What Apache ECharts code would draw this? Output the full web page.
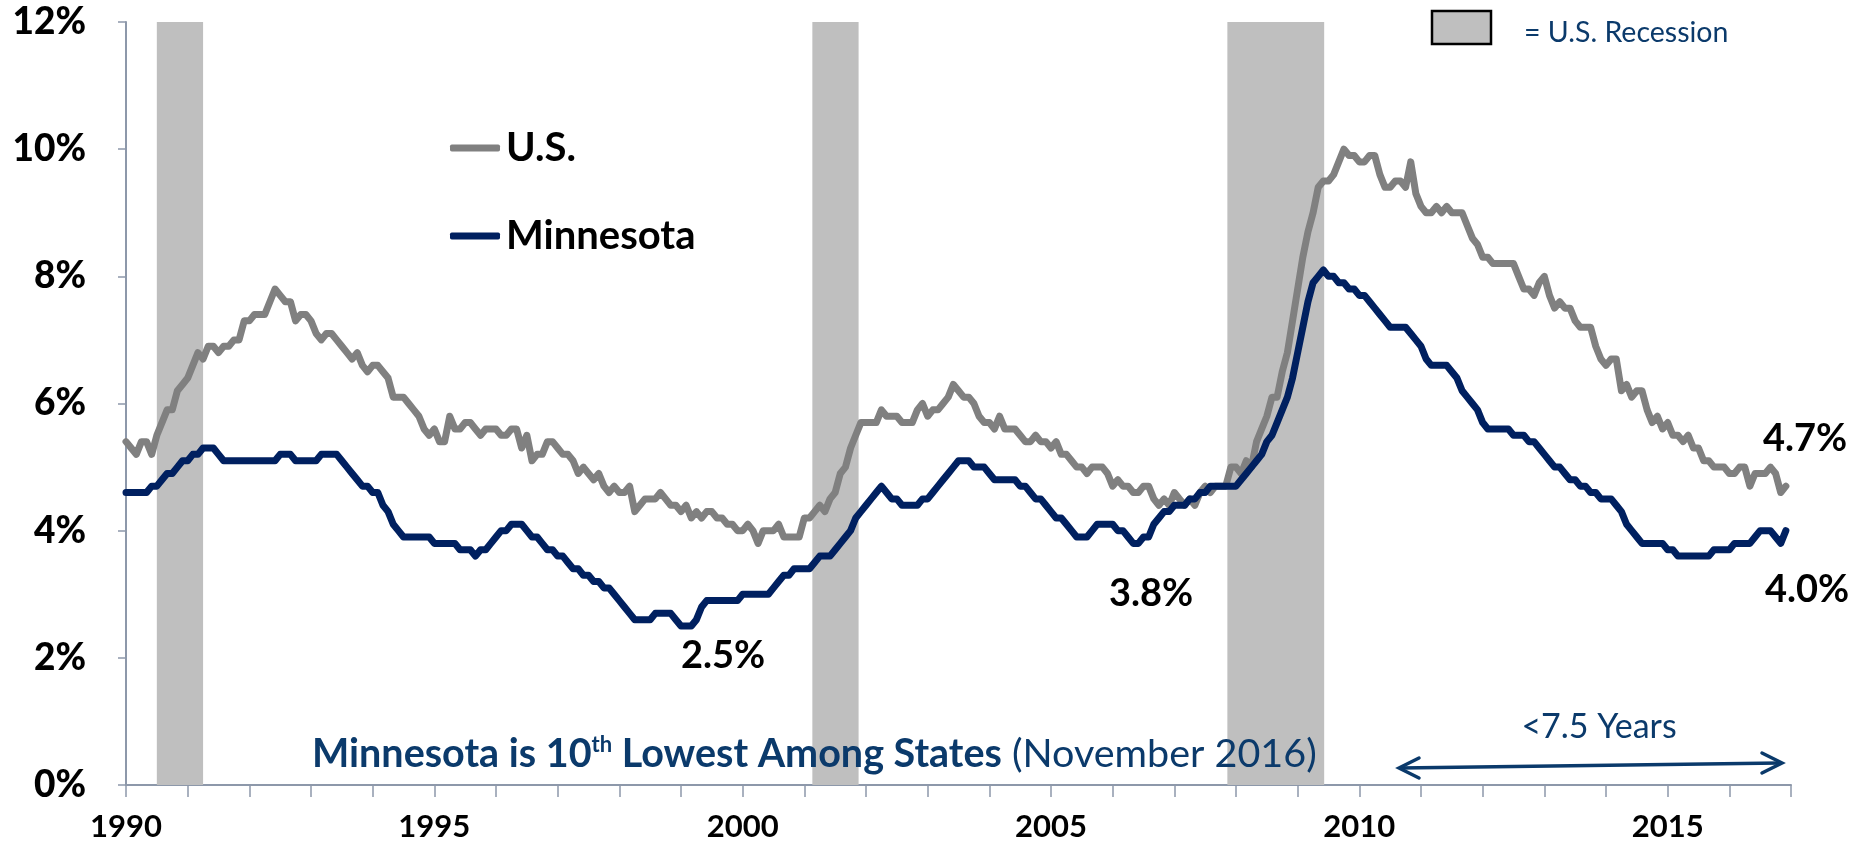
<!DOCTYPE html>
<html>
<head>
<meta charset="utf-8">
<script src="https://cdn.jsdelivr.net/npm/echarts@6/dist/echarts.min.js"></script>
<style>
  html, body { margin: 0; padding: 0; background: #ffffff; }
  #chart { width: 1870px; height: 849px; }
</style>
</head>
<body>
<div id="chart"></div>
<script>
// ---- Data (monthly, Jan 1990 – Dec 2016) ----
const startYear = 1990;
const usRate = [
  5.4,5.3,5.2,5.4,5.4,5.2,5.5,5.7,5.9,5.9,6.2,6.3,   // 1990
  6.4,6.6,6.8,6.7,6.9,6.9,6.8,6.9,6.9,7.0,7.0,7.3,   // 1991
  7.3,7.4,7.4,7.4,7.6,7.8,7.7,7.6,7.6,7.3,7.4,7.4,   // 1992
  7.3,7.1,7.0,7.1,7.1,7.0,6.9,6.8,6.7,6.8,6.6,6.5,   // 1993
  6.6,6.6,6.5,6.4,6.1,6.1,6.1,6.0,5.9,5.8,5.6,5.5,   // 1994
  5.6,5.4,5.4,5.8,5.6,5.6,5.7,5.7,5.6,5.5,5.6,5.6,   // 1995
  5.6,5.5,5.5,5.6,5.6,5.3,5.5,5.1,5.2,5.2,5.4,5.4,   // 1996
  5.3,5.2,5.2,5.1,4.9,5.0,4.9,4.8,4.9,4.7,4.6,4.7,   // 1997
  4.6,4.6,4.7,4.3,4.4,4.5,4.5,4.5,4.6,4.5,4.4,4.4,   // 1998
  4.3,4.4,4.2,4.3,4.2,4.3,4.3,4.2,4.2,4.1,4.1,4.0,   // 1999
  4.0,4.1,4.0,3.8,4.0,4.0,4.0,4.1,3.9,3.9,3.9,3.9,   // 2000
  4.2,4.2,4.3,4.4,4.3,4.5,4.6,4.9,5.0,5.3,5.5,5.7,   // 2001
  5.7,5.7,5.7,5.9,5.8,5.8,5.8,5.7,5.7,5.7,5.9,6.0,   // 2002
  5.8,5.9,5.9,6.0,6.1,6.3,6.2,6.1,6.1,6.0,5.8,5.7,   // 2003
  5.7,5.6,5.8,5.6,5.6,5.6,5.5,5.4,5.4,5.5,5.4,5.4,   // 2004
  5.3,5.4,5.2,5.2,5.1,5.0,5.0,4.9,5.0,5.0,5.0,4.9,   // 2005
  4.7,4.8,4.7,4.7,4.6,4.6,4.7,4.7,4.5,4.4,4.5,4.4,   // 2006
  4.6,4.5,4.4,4.5,4.4,4.6,4.7,4.6,4.7,4.7,4.7,5.0,   // 2007
  5.0,4.9,5.1,5.0,5.4,5.6,5.8,6.1,6.1,6.5,6.8,7.3,   // 2008
  7.8,8.3,8.7,9.0,9.4,9.5,9.5,9.6,9.8,10.0,9.9,9.9,  // 2009
  9.8,9.8,9.9,9.9,9.6,9.4,9.4,9.5,9.5,9.4,9.8,9.3,   // 2010
  9.1,9.0,9.0,9.1,9.0,9.1,9.0,9.0,9.0,8.8,8.6,8.5,   // 2011
  8.3,8.3,8.2,8.2,8.2,8.2,8.2,8.0,7.8,7.8,7.7,7.9,   // 2012
  8.0,7.7,7.5,7.6,7.5,7.5,7.3,7.2,7.2,7.2,6.9,6.7,   // 2013
  6.6,6.7,6.7,6.2,6.3,6.1,6.2,6.2,5.9,5.7,5.8,5.6,   // 2014
  5.7,5.5,5.5,5.4,5.5,5.3,5.3,5.1,5.1,5.0,5.0,5.0,   // 2015
  4.9,4.9,5.0,5.0,4.7,4.9,4.9,4.9,5.0,4.9,4.6,4.7    // 2016
];
const mnRate = [
  4.6,4.6,4.6,4.6,4.6,4.7,4.7,4.8,4.9,4.9,5.0,5.1,   // 1990
  5.1,5.2,5.2,5.3,5.3,5.3,5.2,5.1,5.1,5.1,5.1,5.1,   // 1991
  5.1,5.1,5.1,5.1,5.1,5.1,5.2,5.2,5.2,5.1,5.1,5.1,   // 1992
  5.1,5.1,5.2,5.2,5.2,5.2,5.1,5.0,4.9,4.8,4.7,4.7,   // 1993
  4.6,4.6,4.4,4.3,4.1,4.0,3.9,3.9,3.9,3.9,3.9,3.9,   // 1994
  3.8,3.8,3.8,3.8,3.8,3.7,3.7,3.7,3.6,3.7,3.7,3.8,   // 1995
  3.9,4.0,4.0,4.1,4.1,4.1,4.0,3.9,3.9,3.8,3.7,3.7,   // 1996
  3.6,3.6,3.5,3.4,3.4,3.3,3.3,3.2,3.2,3.1,3.1,3.0,   // 1997
  2.9,2.8,2.7,2.6,2.6,2.6,2.6,2.7,2.7,2.7,2.7,2.6,   // 1998
  2.5,2.5,2.5,2.6,2.8,2.9,2.9,2.9,2.9,2.9,2.9,2.9,   // 1999
  3.0,3.0,3.0,3.0,3.0,3.0,3.1,3.2,3.3,3.3,3.4,3.4,   // 2000
  3.4,3.4,3.5,3.6,3.6,3.6,3.7,3.8,3.9,4.0,4.2,4.3,   // 2001
  4.4,4.5,4.6,4.7,4.6,4.5,4.5,4.4,4.4,4.4,4.4,4.5,   // 2002
  4.5,4.6,4.7,4.8,4.9,5.0,5.1,5.1,5.1,5.0,5.0,5.0,   // 2003
  4.9,4.8,4.8,4.8,4.8,4.8,4.7,4.7,4.6,4.5,4.5,4.4,   // 2004
  4.3,4.2,4.2,4.1,4.0,3.9,3.9,3.9,4.0,4.1,4.1,4.1,   // 2005
  4.1,4.0,4.0,3.9,3.8,3.8,3.9,3.9,4.1,4.2,4.3,4.3,   // 2006
  4.4,4.4,4.4,4.5,4.5,4.6,4.6,4.7,4.7,4.7,4.7,4.7,   // 2007
  4.7,4.8,4.9,5.0,5.1,5.2,5.4,5.5,5.7,5.9,6.1,6.4,   // 2008
  6.8,7.2,7.6,7.9,8.0,8.1,8.0,8.0,7.9,7.9,7.8,7.8,   // 2009
  7.7,7.7,7.6,7.5,7.4,7.3,7.2,7.2,7.2,7.2,7.1,7.0,   // 2010
  6.9,6.7,6.6,6.6,6.6,6.6,6.5,6.4,6.2,6.1,6.0,5.9,   // 2011
  5.7,5.6,5.6,5.6,5.6,5.6,5.5,5.5,5.5,5.4,5.4,5.3,   // 2012
  5.2,5.1,5.0,5.0,4.9,4.8,4.8,4.7,4.7,4.6,4.6,4.5,   // 2013
  4.5,4.5,4.4,4.3,4.1,4.0,3.9,3.8,3.8,3.8,3.8,3.8,   // 2014
  3.7,3.7,3.6,3.6,3.6,3.6,3.6,3.6,3.6,3.7,3.7,3.7,   // 2015
  3.7,3.8,3.8,3.8,3.8,3.9,4.0,4.0,4.0,3.9,3.8,4.0    // 2016
];
const recessions = [[1990.5, 1991.25], [2001.13, 2001.88], [2007.86, 2009.43]];
const xTickLabels = ['1990', '1995', '2000', '2005', '2010', '2015'];
const yTickLabels = ['0%', '2%', '4%', '6%', '8%', '10%', '12%'];
const seriesNames = ['U.S.', 'Minnesota'];
const callouts = ['4.7%', '4.0%', '3.8%', '2.5%'];

// ---- Chart ----
const toPts = arr => arr.map((v, i) => [startYear + i / 12, v]);
const axisColor = '#8D98AA';
const navy = '#0B3A6B';
const chart = echarts.init(document.getElementById('chart'), null, { renderer: 'canvas' });

const calloutFont = 'bold 38px Lato, sans-serif';
const option = {
  animation: false,
  backgroundColor: '#ffffff',
  grid: { left: 126, right: 79, top: 22, bottom: 64, containLabel: false },
  xAxis: {
    type: 'value', min: 1990, max: 2017, interval: 1,
    axisLine: { show: true, lineStyle: { color: axisColor, width: 2 } },
    axisTick: { show: true, length: 12, lineStyle: { color: axisColor, width: 1.5 } },
    splitLine: { show: false },
    axisLabel: {
      margin: 26, color: '#000', fontWeight: 'bold', fontSize: 31,
      fontFamily: "'Liberation Sans Narrow', Lato, sans-serif",
      showMinLabel: true, showMaxLabel: true,
      formatter: v => { const s = String(Math.round(v)); return xTickLabels.includes(s) ? s : ''; }
    }
  },
  yAxis: {
    type: 'value', min: 0, max: 12, interval: 2,
    axisLine: { show: true, lineStyle: { color: axisColor, width: 2 } },
    axisTick: { show: true, length: 8, lineStyle: { color: axisColor, width: 1.5 } },
    splitLine: { show: false },
    axisLabel: {
      margin: 40, color: '#000', fontWeight: 900, fontSize: 37,
      fontFamily: 'Lato, sans-serif',
      formatter: (v) => yTickLabels[Math.round(v / 2)] || ''
    }
  },
  legend: {
    data: seriesNames, orient: 'vertical', left: 445, top: 122,
    itemWidth: 50, itemHeight: 7, icon: 'roundRect', itemGap: 46,
    textStyle: { fontFamily: 'Lato, sans-serif', fontWeight: 'bold', fontSize: 40,
                 color: '#000', lineHeight: 42, padding: [0, 0, 0, 1] },
    selectedMode: false
  },
  series: [
    {
      name: 'recession', type: 'line', data: [], z: 1, silent: true,
      markArea: {
        silent: true, itemStyle: { color: '#BFBFBF' },
        data: recessions.map(r => [{ xAxis: r[0] }, { xAxis: r[1] }])
      }
    },
    {
      name: seriesNames[0], type: 'line', data: toPts(usRate), showSymbol: false, z: 3, silent: true,
      lineStyle: { color: '#808080', width: 7, cap: 'round', join: 'round' },
      itemStyle: { color: '#808080' }
    },
    {
      name: seriesNames[1], type: 'line', data: toPts(mnRate), showSymbol: false, z: 4, silent: true,
      lineStyle: { color: '#002060', width: 7, cap: 'round', join: 'round' },
      itemStyle: { color: '#002060' }
    }
  ],
  graphic: [
    { type: 'rect', shape: { x: 1432, y: 11, width: 59, height: 33 },
      style: { fill: '#BFBFBF', stroke: '#000', lineWidth: 2.5 }, z: 10 },
    { type: 'text', x: 1524, y: 33,
      style: { text: '= U.S. Recession', fill: navy, font: '28.5px Lato, sans-serif', textVerticalAlign: 'middle' }, z: 10 },
    // callouts
    { type: 'text', x: 1805, y: 439, style: { text: callouts[0], fill: '#000', font: calloutFont, textAlign: 'center', textVerticalAlign: 'middle' }, z: 10 },
    { type: 'text', x: 1807, y: 590, style: { text: callouts[1], fill: '#000', font: calloutFont, textAlign: 'center', textVerticalAlign: 'middle' }, z: 10 },
    { type: 'text', x: 1151, y: 594, style: { text: callouts[2], fill: '#000', font: calloutFont, textAlign: 'center', textVerticalAlign: 'middle' }, z: 10 },
    { type: 'text', x: 723, y: 656, style: { text: callouts[3], fill: '#000', font: calloutFont, textAlign: 'center', textVerticalAlign: 'middle' }, z: 10 },
    // bottom statement
    { type: 'text', x: 312, y: 754, z: 10,
      style: {
        text: '{b|Minnesota is 10}{s|th}{b| Lowest Among States}{r| (November 2016)}',
        textVerticalAlign: 'middle',
        rich: {
          b: { fontFamily: 'Lato, sans-serif', fontWeight: 'bold', fontSize: 39.5, fill: '#0B3A6B', color: '#0B3A6B' },
          s: { fontFamily: 'Lato, sans-serif', fontWeight: 'bold', fontSize: 22, fill: '#0B3A6B', color: '#0B3A6B', verticalAlign: 'top', padding: [0, 0, 16, 0] },
          r: { fontFamily: 'Lato, sans-serif', fontSize: 39.5, fill: '#0B3A6B', color: '#0B3A6B' }
        }
      } },
    { type: 'text', x: 1599, y: 727,
      style: { text: '<7.5 Years', fill: navy, font: '34px Lato, sans-serif', textAlign: 'center', textVerticalAlign: 'middle' }, z: 10 },
    // double arrow
    { type: 'polyline', shape: { points: [[1400, 768], [1780, 763]] }, style: { stroke: navy, lineWidth: 3.5, fill: null }, z: 10 },
    { type: 'polyline', shape: { points: [[1419, 758], [1399, 768], [1419, 778]] }, style: { stroke: navy, lineWidth: 3.5, fill: null, lineCap: 'round', lineJoin: 'miter' }, z: 10 },
    { type: 'polyline', shape: { points: [[1762, 753], [1782, 763], [1762, 773]] }, style: { stroke: navy, lineWidth: 3.5, fill: null, lineCap: 'round', lineJoin: 'miter' }, z: 10 }
  ]
};
chart.setOption(option);
</script>
</body>
</html>
